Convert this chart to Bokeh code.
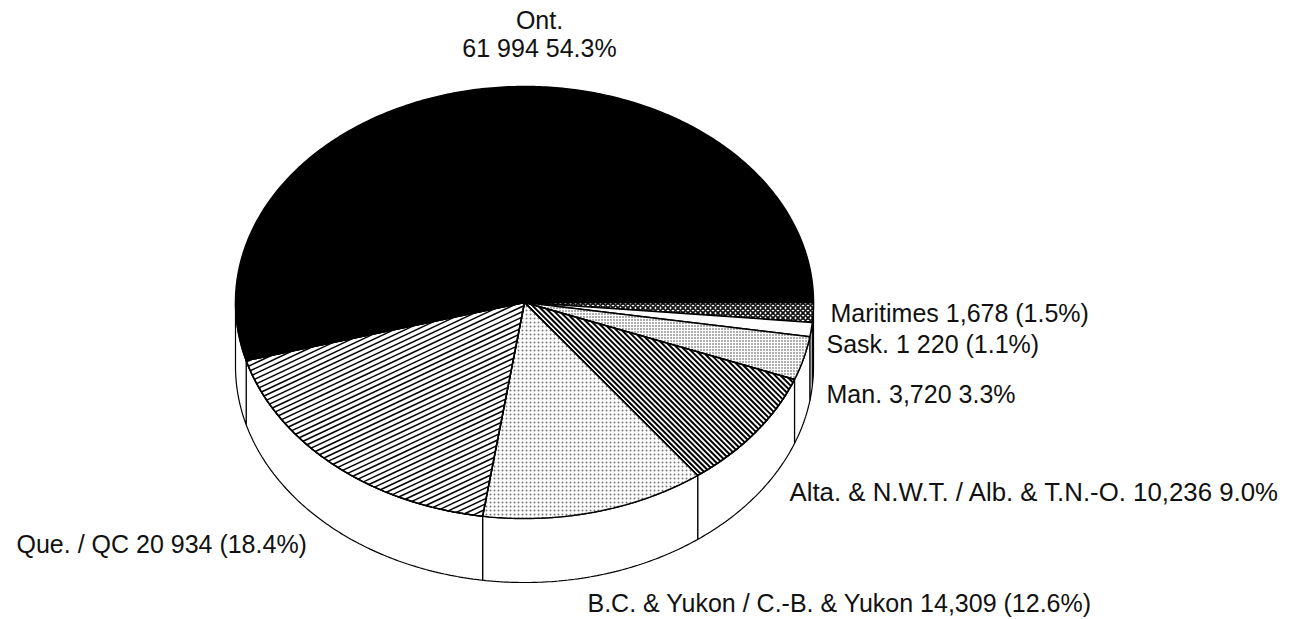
import numpy as np
from bokeh.plotting import figure
from bokeh.models import Range1d, ColumnDataSource
from bokeh.core.properties import value
from bokeh.embed import file_html
from bokeh.resources import INLINE

# data, clockwise from 3 o'clock
regions = ["Maritimes", "Sask.", "Man.", "Alta. & N.W.T.", "B.C. & Yukon", "Que.", "Ont."]
amounts = [1678, 1220, 3720, 10236, 14309, 20934, 61994]
labels = ["Maritimes 1,678 (1.5%)", "Sask. 1 220 (1.1%)", "Man. 3,720 3.3%",
          "Alta. & N.W.T. / Alb. & T.N.-O. 10,236 9.0%",
          "B.C. & Yukon / C.-B. & Yukon 14,309 (12.6%)",
          "Que. / QC 20 934 (18.4%)"]
top_label = ["Ont.", "61 994 54.3%"]

# layout
CX, CY, RX, RY, DEPTH = 524, 302, 289, 216, 64
label_x = [830, 826, 826, 789, 587, 16]
label_y = [312, 343, 393, 491, 602, 543]
label_size = ["25px", "25px", "25px", "25.8px", "25px", "25px"]
top_x, top_y = 539, [19, 47]
FONT = value("Liberation Sans")

W, H = 1291, 619
p = figure(width=W, height=H, output_backend="svg", toolbar_location=None,
           x_range=Range1d(0, W), y_range=Range1d(H, 0),
           min_border=0, outline_line_color=None, background_fill_color="white",
           border_fill_color="white")
p.axis.visible = False
p.grid.visible = False

fractions = np.array(amounts) / sum(amounts)
edges = np.concatenate([[0], np.cumsum(fractions)]) * 2 * np.pi


def rim(a0, a1, depth=0.0, n=None):
    n = n or max(3, int((a1 - a0) * 90))
    t = np.linspace(a0, a1, n)
    return CX + RX * np.cos(t), CY + RY * np.sin(t) + depth


def wedge(a0, a1):
    x, y = rim(a0, a1)
    return np.r_[CX, x], np.r_[CY, y]


def hatch_lines(a0, a1, slope, step):
    """Straight parallel hatch strokes clipped to a convex wedge."""
    px, py = wedge(a0, a1)
    xs, ys = [], []
    b = py - slope * px
    for c in np.arange(np.floor(b.min() / step) * step, b.max(), step):
        hits = []
        for i in range(len(px)):
            j = (i + 1) % len(px)
            d0 = py[i] - slope * px[i] - c
            d1 = py[j] - slope * px[j] - c
            if d0 * d1 < 0:
                u = d0 / (d0 - d1)
                hits.append(px[i] + u * (px[j] - px[i]))
        if len(hits) >= 2:
            x0, x1 = min(hits), max(hits)
            xs.append([x0, x1])
            ys.append([slope * x0 + c, slope * x1 + c])
    return xs, ys


# side walls (only the front half is visible)
wall_fill = ["black", "white", "white", "white", "white", "white", "white"]
for i in range(7):
    a0, a1 = edges[i], min(edges[i + 1], np.pi)
    if a0 >= np.pi:
        continue
    x0, y0 = rim(a0, a1)
    x1, y1 = rim(a0, a1, DEPTH)
    p.patch(np.r_[x0, x1[::-1]], np.r_[y0, y1[::-1]], fill_color=wall_fill[i],
            line_color="black", line_width=1.2)

# top faces
tops = {
    "Maritimes": dict(fill_color="white", hatch_pattern="diagonal_cross", hatch_color="#111111",
                      hatch_scale=5, hatch_weight=1.8),
    "Sask.": dict(fill_color="white"),
    "Man.": dict(fill_color="white", hatch_pattern="dot", hatch_color="#333333",
                 hatch_scale=3, hatch_weight=0.9),
    "Alta. & N.W.T.": dict(fill_color="white"),
    "B.C. & Yukon": dict(fill_color="white", hatch_pattern="dot", hatch_color="#777777",
                         hatch_scale=4, hatch_weight=1.0),
    "Que.": dict(fill_color="white"),
    "Ont.": dict(fill_color="black"),
}
for i, name in enumerate(regions):
    x, y = wedge(edges[i], edges[i + 1])
    p.patch(x, y, line_color="black", line_width=1.5, **tops[name])

xs, ys = hatch_lines(edges[3], edges[4], 1.0, 5.4)
p.multi_line(xs, ys, line_color="black", line_width=2.0)
xs, ys = hatch_lines(edges[5], edges[6], -0.47, 5.3)
p.multi_line(xs, ys, line_color="black", line_width=1.5)

for i in (3, 5):
    x, y = wedge(edges[i], edges[i + 1])
    p.patch(x, y, fill_color=None, line_color="black", line_width=1.5)

src = ColumnDataSource(dict(x=label_x, y=label_y, t=labels, s=label_size))
p.text("x", "y", text="t", source=src, text_font=FONT, text_font_size="s",
       text_baseline="middle", text_align="left", text_color="#111111")
p.text([top_x] * 2, top_y, text=top_label, text_font=FONT, text_font_size="25px",
       text_baseline="middle", text_align="center", text_color="#111111")

open("out.html", "w").write(file_html(p, INLINE))
